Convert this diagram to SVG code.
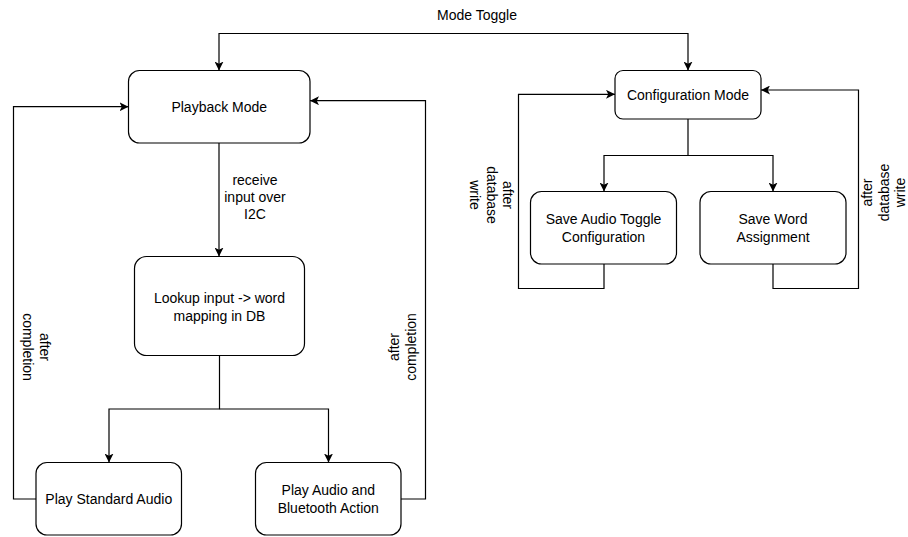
<svg xmlns="http://www.w3.org/2000/svg" width="908" height="537" viewBox="0 0 908 537">
<style>
.box{fill:#fff;stroke:#000;stroke-width:1.2}
.t{font-family:"Liberation Sans",Arial,sans-serif;font-size:14px;fill:#000;text-anchor:middle;dominant-baseline:central}
.e{fill:none;stroke:#000;stroke-width:1.2}
</style>
<defs>
<marker id="a" viewBox="0 0 10 10" refX="10" refY="5" markerWidth="9" markerHeight="9" markerUnits="userSpaceOnUse" orient="auto-start-reverse">
<path d="M0,0 L10,5 L0,10 L2.5,5 z" fill="#000"/>
</marker>
</defs>
<rect width="908" height="537" fill="#fff"/>
<g id="connectors">
<path class="e" d="M219,70.5 V33.5 H688 V70.5" marker-start="url(#a)" marker-end="url(#a)"/>
<text class="t" x="477" y="15">Mode Toggle</text>
<path class="e" d="M219,143 V256.5" marker-end="url(#a)"/>
<text class="t" x="255" y="180">receive</text>
<text class="t" x="255" y="197">input over</text>
<text class="t" x="255" y="214">I2C</text>
<path class="e" d="M219.5,355.5 V409 H109 V462.5" marker-end="url(#a)"/>
<path class="e" d="M219.5,409 H328.5 V462.5" marker-end="url(#a)"/>
<path class="e" d="M36,499 H13.5 V106.7 H128.5" marker-end="url(#a)"/>
<g transform="translate(36,347) rotate(90)">
<text class="t" x="0" y="-8.5">after</text>
<text class="t" x="0" y="8.5">completion</text>
</g>
<path class="e" d="M401,499 H425.5 V100.7 H310" marker-end="url(#a)"/>
<g transform="translate(402,347) rotate(-90)">
<text class="t" x="0" y="-8.5">after</text>
<text class="t" x="0" y="8.5">completion</text>
</g>
<path class="e" d="M688,119 V155.5 H604 V191.5" marker-end="url(#a)"/>
<path class="e" d="M688,155.5 H773 V191.5" marker-end="url(#a)"/>
<path class="e" d="M604,264 V288.5 H518.5 V94.3 H615" marker-end="url(#a)"/>
<g transform="translate(491.5,195) rotate(90)">
<text class="t" x="0" y="-16.5">after</text>
<text class="t" x="0" y="0">database</text>
<text class="t" x="0" y="16.5">write</text>
</g>
<path class="e" d="M773,264 V288.5 H858.5 V90 H761" marker-end="url(#a)"/>
<g transform="translate(883.5,192.5) rotate(-90)">
<text class="t" x="0" y="-16.5">after</text>
<text class="t" x="0" y="0">database</text>
<text class="t" x="0" y="16.5">write</text>
</g>
</g>
<g id="playback">
<rect class="box" x="128.5" y="70.5" width="181.5" height="72.5" rx="11"/>
<text class="t" x="219.25" y="106.7">Playback Mode</text>
</g>
<g id="lookup">
<rect class="box" x="134.5" y="256.5" width="170" height="99" rx="12"/>
<text class="t" x="219.5" y="298">Lookup input -&gt; word</text>
<text class="t" x="219.5" y="315.5">mapping in DB</text>
</g>
<g id="standard">
<rect class="box" x="36" y="462.5" width="145.5" height="72.5" rx="11"/>
<text class="t" x="108.75" y="498.5">Play Standard Audio</text>
</g>
<g id="bluetooth">
<rect class="box" x="255.5" y="462.5" width="145.5" height="72.5" rx="11"/>
<text class="t" x="328.25" y="490">Play Audio and</text>
<text class="t" x="328.25" y="507.5">Bluetooth Action</text>
</g>
<g id="config">
<rect class="box" x="615" y="70.5" width="146" height="48.5" rx="8"/>
<text class="t" x="688" y="94.5">Configuration Mode</text>
</g>
<g id="saveAudio">
<rect class="box" x="530.5" y="191.5" width="146" height="72.5" rx="11"/>
<text class="t" x="603.5" y="219">Save Audio Toggle</text>
<text class="t" x="603.5" y="236.5">Configuration</text>
</g>
<g id="saveWord">
<rect class="box" x="700" y="191.5" width="146" height="72.5" rx="11"/>
<text class="t" x="773" y="219">Save Word</text>
<text class="t" x="773" y="236.5">Assignment</text>
</g>
</svg>
